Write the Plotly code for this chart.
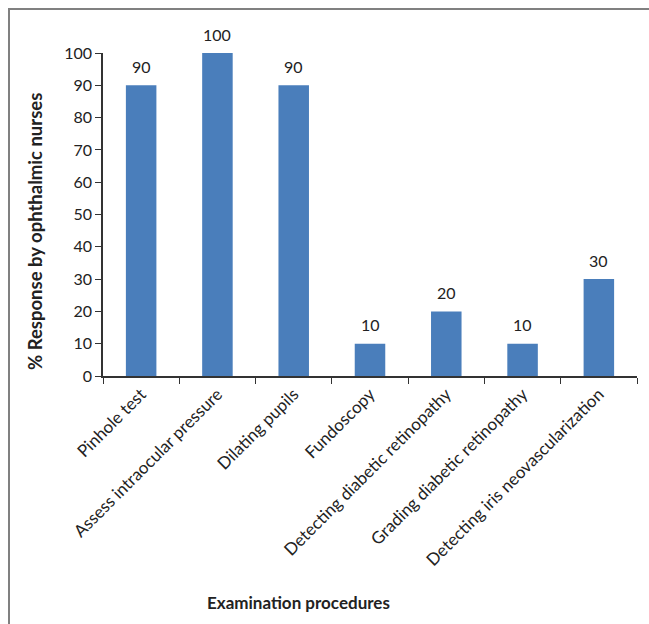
import plotly.graph_objects as go

categories = ["Pinhole test", "Assess intraocular pressure", "Dilating pupils", "Fundoscopy",
              "Detecting diabetic retinopathy", "Grading diabetic retinopathy",
              "Detecting iris neovascularization"]
values = [90, 100, 90, 10, 20, 10, 30]
y_ticks = [0, 10, 20, 30, 40, 50, 60, 70, 80, 90, 100]

W, H = 649, 624
L, R, T, B = 103, 12, 53, 248
pw, ph = W - L - R, H - T - B

FONT = "Lato, 'Open Sans', sans-serif"
TXT = "#222"

fig = go.Figure(go.Bar(
    x=categories, y=values,
    marker=dict(color="#4a7ebb", line=dict(width=0)),
    width=0.4,
    cliponaxis=False,
    hoverinfo="x+y",
))

def px_x(p):
    return (p - L) / pw

def px_y(p):
    return (H - B - p) / ph

annotations = [dict(x=c, y=v, xref="x", yref="y", text=str(v), showarrow=False,
                    yanchor="middle", yshift=19,
                    font=dict(size=16, family=FONT, color=TXT))
               for c, v in zip(categories, values)]
annotations.append(dict(x=px_x(298), y=px_y(602), xref="paper", yref="paper",
                        text="<b>Examination procedures</b>", showarrow=False,
                        xanchor="center", yanchor="middle",
                        font=dict(size=17, family=FONT, color=TXT)))
annotations.append(dict(x=px_x(35), y=px_y(232), xref="paper", yref="paper",
                        text="<b>% Response by ophthalmic nurses</b>", showarrow=False,
                        textangle=-90, xanchor="center", yanchor="middle",
                        font=dict(size=18.5, family=FONT, color=TXT)))

fig.update_layout(
    width=W, height=H,
    margin=dict(l=L, r=R, t=T, b=B),
    paper_bgcolor="white", plot_bgcolor="white",
    showlegend=False,
    font=dict(family=FONT, color=TXT),
    xaxis=dict(
        type="category", tickangle=-45, tickson="boundaries",
        ticks="outside", ticklen=6, tickcolor="#333",
        showline=True, linecolor="#333", linewidth=1.5,
        tickfont=dict(size=17, family=FONT, color=TXT),
        showgrid=False, automargin=False,
    ),
    yaxis=dict(
        range=[0, 100], tickvals=y_ticks,
        ticks="outside", ticklen=6, tickcolor="#333",
        showline=True, linecolor="#333", linewidth=1.5,
        tickfont=dict(size=16, family=FONT, color=TXT),
        showgrid=False, zeroline=False, automargin=False,
    ),
    annotations=annotations,
    shapes=[dict(type="rect", xref="paper", yref="paper",
                 x0=px_x(9), x1=px_x(700), y0=px_y(700), y1=px_y(9),
                 line=dict(color="#808080", width=2), layer="above")],
)

fig.write_html("out.html")
